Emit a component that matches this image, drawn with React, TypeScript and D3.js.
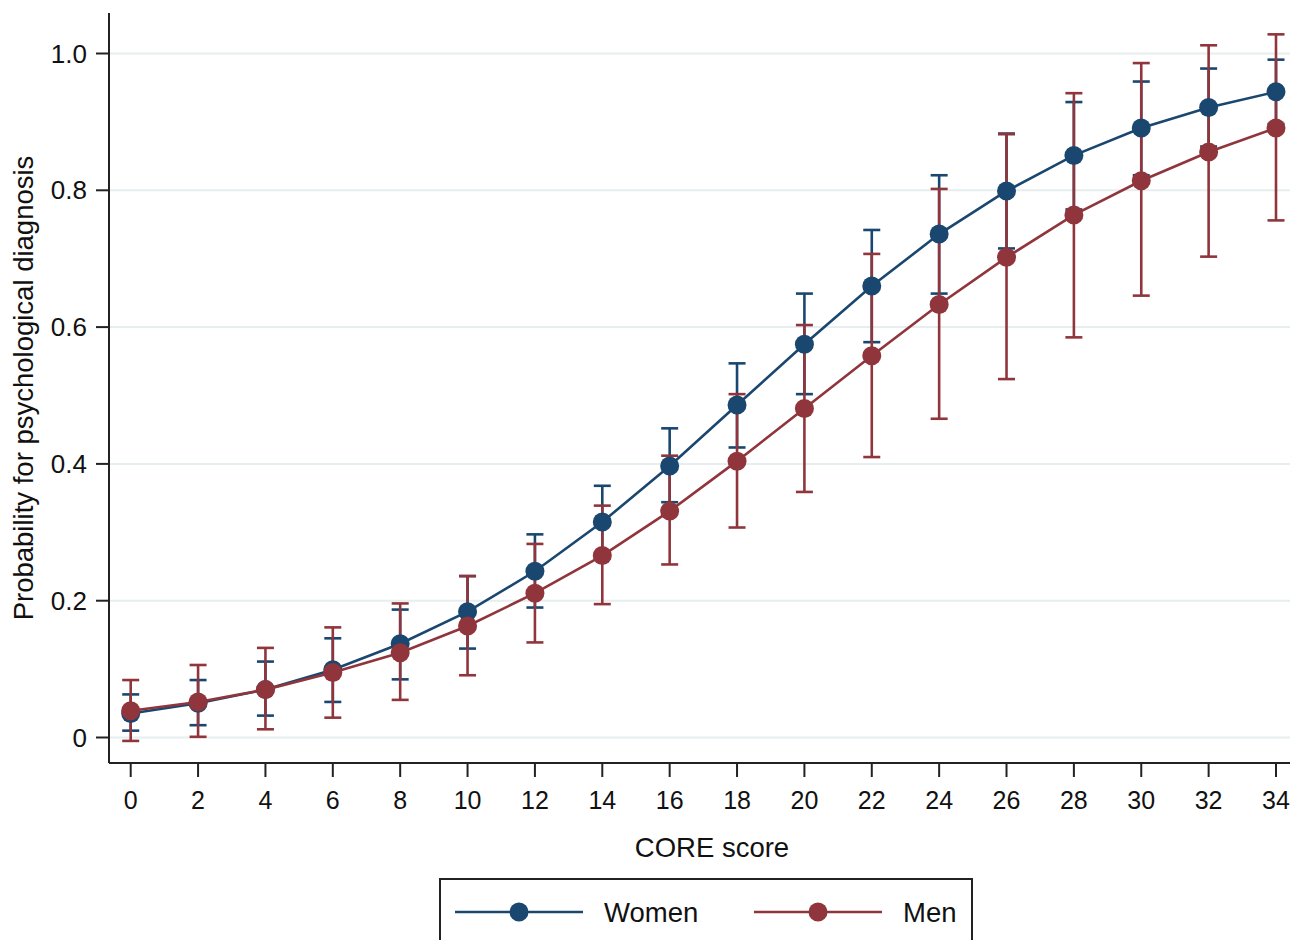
import React from 'react';
import * as d3 from 'd3';

// CORE score values on the x axis
const scores = [0, 2, 4, 6, 8, 10, 12, 14, 16, 18, 20, 22, 24, 26, 28, 30, 32, 34];

const womenP = [0.035, 0.050, 0.070, 0.099, 0.137, 0.184, 0.243, 0.315, 0.397, 0.486, 0.575, 0.660, 0.736, 0.799, 0.851, 0.891, 0.921, 0.944];
const womenLo = [0.010, 0.018, 0.032, 0.052, 0.085, 0.130, 0.190, 0.262, 0.344, 0.424, 0.502, 0.578, 0.649, 0.715, 0.772, 0.822, 0.864, 0.897];
const womenHi = [0.063, 0.084, 0.111, 0.145, 0.187, 0.236, 0.297, 0.368, 0.452, 0.547, 0.649, 0.742, 0.822, 0.883, 0.929, 0.959, 0.978, 0.991];

const menP = [0.039, 0.052, 0.070, 0.095, 0.124, 0.163, 0.211, 0.266, 0.331, 0.404, 0.481, 0.558, 0.633, 0.702, 0.764, 0.814, 0.856, 0.891];
const menLo = [-0.005, 0.001, 0.012, 0.029, 0.055, 0.091, 0.139, 0.195, 0.253, 0.307, 0.359, 0.410, 0.466, 0.524, 0.585, 0.646, 0.703, 0.756];
const menHi = [0.084, 0.106, 0.131, 0.161, 0.196, 0.236, 0.283, 0.339, 0.412, 0.502, 0.603, 0.707, 0.802, 0.882, 0.942, 0.986, 1.012, 1.028];

const yTicks = [0, 0.2, 0.4, 0.6, 0.8, 1.0];
const yTickLabels = ['0', '0.2', '0.4', '0.6', '0.8', '1.0'];

const BLUE = '#1a476f';
const RED = '#90353b';
const FONT = 'Liberation Sans, Arial, sans-serif';

const x = d3.scaleLinear().domain([0, 34]).range([130.7, 1276]);
const y = d3.scaleLinear().domain([0, 1]).range([737.5, 53.5]);

type Pt = { s: number; p: number; lo: number; hi: number };

const build = (p: number[], lo: number[], hi: number[]): Pt[] =>
  scores.map((s, i) => ({ s, p: p[i], lo: lo[i], hi: hi[i] }));

const women = build(womenP, womenLo, womenHi);
const men = build(menP, menLo, menHi);

const line = d3.line<Pt>().x(d => x(d.s)).y(d => y(d.p));

const Caps = ({ data, color }: { data: Pt[]; color: string }) => (
  <g stroke={color} strokeWidth={2.6} fill="none">
    {data.map(d => (
      <g key={d.s}>
        <line x1={x(d.s)} x2={x(d.s)} y1={y(d.lo)} y2={y(d.hi)} />
        <line x1={x(d.s) - 8.5} x2={x(d.s) + 8.5} y1={y(d.lo)} y2={y(d.lo)} />
        <line x1={x(d.s) - 8.5} x2={x(d.s) + 8.5} y1={y(d.hi)} y2={y(d.hi)} />
      </g>
    ))}
  </g>
);

const Series = ({ data, color }: { data: Pt[]; color: string }) => (
  <g>
    <path d={line(data) || ''} fill="none" stroke={color} strokeWidth={2.6} />
    {data.map(d => (
      <circle key={d.s} cx={x(d.s)} cy={y(d.p)} r={9.5} fill={color} />
    ))}
  </g>
);

export default function App() {
  const axisY = 763;
  const axisX = 109;
  return (
    <svg width={1290} height={940} style={{ position: 'absolute', left: 0, top: 0, background: '#fff' }} fontFamily={FONT}>
      <rect width={1290} height={940} fill="#fff" />

      {/* grid */}
      {yTicks.map(t => (
        <line key={t} x1={axisX} x2={1290} y1={y(t)} y2={y(t)} stroke="#e6eef0" strokeWidth={2} />
      ))}

      {/* y axis */}
      <line x1={axisX} x2={axisX} y1={13} y2={axisY} stroke="#222" strokeWidth={2} />
      {yTicks.map((t, i) => (
        <g key={t}>
          <line x1={96} x2={axisX} y1={y(t)} y2={y(t)} stroke="#222" strokeWidth={2} />
          <text x={87} y={y(t)} dy="0.35em" textAnchor="end" fontSize={26} fill="#111">{yTickLabels[i]}</text>
        </g>
      ))}
      <text transform={`translate(33,388) rotate(-90)`} textAnchor="middle" fontSize={27.5} fill="#111">
        Probability for psychological diagnosis
      </text>

      {/* x axis */}
      <line x1={axisX} x2={1290} y1={axisY} y2={axisY} stroke="#222" strokeWidth={2} />
      {scores.map(s => (
        <g key={s}>
          <line x1={x(s)} x2={x(s)} y1={axisY} y2={777} stroke="#222" strokeWidth={2} />
          <text x={x(s)} y={809} textAnchor="middle" fontSize={25} fill="#111">{s}</text>
        </g>
      ))}
      <text x={712} y={857} textAnchor="middle" fontSize={27.5} fill="#111">CORE score</text>

      {/* error bars then connected series */}
      <Caps data={women} color={BLUE} />
      <Caps data={men} color={RED} />
      <Series data={women} color={BLUE} />
      <Series data={men} color={RED} />

      {/* legend */}
      <rect x={440} y={879} width={532} height={80} fill="#fff" stroke="#222" strokeWidth={2} />
      <line x1={455} x2={583} y1={912} y2={912} stroke={BLUE} strokeWidth={2.6} />
      <circle cx={519} cy={912} r={9.5} fill={BLUE} />
      <text x={604} y={922} fontSize={27.5} fill="#111">Women</text>
      <line x1={754} x2={882} y1={912} y2={912} stroke={RED} strokeWidth={2.6} />
      <circle cx={818} cy={912} r={9.5} fill={RED} />
      <text x={903} y={922} fontSize={27.5} fill="#111">Men</text>
    </svg>
  );
}
